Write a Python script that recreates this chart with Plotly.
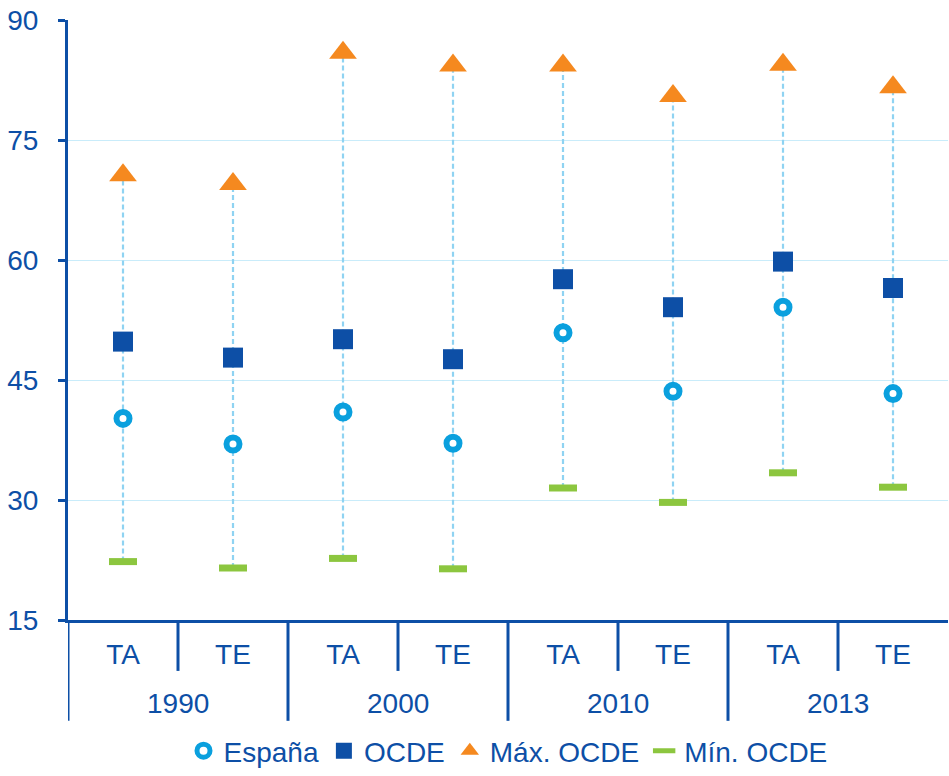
import plotly.graph_objects as go

# Data
years = ["1990", "1990", "2000", "2000", "2010", "2010", "2013", "2013"]
kinds = ["TA", "TE", "TA", "TE", "TA", "TE", "TA", "TE"]
espana = [40.2, 37.0, 41.0, 37.1, 50.9, 43.6, 54.1, 43.3]
ocde = [49.8, 47.8, 50.1, 47.6, 57.6, 54.1, 59.8, 56.5]
max_ocde = [70.6, 69.5, 85.9, 84.3, 84.3, 80.5, 84.4, 81.6]
min_ocde = [22.3, 21.5, 22.7, 21.4, 31.5, 29.7, 33.4, 31.6]

blue = "#0d4fa6"
font = dict(family="Liberation Sans, Arial", size=28, color=blue)

cats = [f"{y} {k}" for y, k in zip(years, kinds)]

fig = go.Figure()

# dashed range lines from min to max
for c, lo, hi in zip(cats, min_ocde, max_ocde):
    fig.add_trace(go.Scatter(
        x=[c, c], y=[lo, hi], mode="lines",
        line=dict(color="#8fd3f2", width=2.2, dash="5px,3px"),
        showlegend=False, hoverinfo="skip"))

fig.add_trace(go.Scatter(
    x=cats, y=espana, mode="markers", name="España",
    marker=dict(symbol="circle", size=13, color="white",
                line=dict(color="#0aa0de", width=6))))
fig.add_trace(go.Scatter(
    x=cats, y=ocde, mode="markers", name="OCDE",
    marker=dict(symbol="square", size=20, color=blue)))
fig.add_trace(go.Scatter(
    x=cats, y=max_ocde, mode="markers", name="Máx. OCDE",
    marker=dict(symbol="triangle-up", size=24, color="#f5891f")))
fig.add_trace(go.Scatter(
    x=cats, y=min_ocde, mode="markers", name="Mín. OCDE",
    marker=dict(symbol="line-ew", size=20,
                line=dict(color="#8cc63f", width=7))))

# separators under the axis: short between TA/TE, long between years
n = len(cats)
for i in range(n):
    long = i % 2 == 0
    fig.add_shape(type="line", xref="x", yref="paper",
                  x0=i - 0.5, x1=i - 0.5, y0=0, y1=-(101 if long else 51) / 601,
                  line=dict(color=blue, width=3))

# year labels centred under each pair
for i in range(0, n, 2):
    fig.add_annotation(x=i + 0.5, y=-84 / 601, xref="x", yref="paper",
                       text=years[i], showarrow=False, font=font,
                       yanchor="middle")

fig.update_xaxes(
    type="category", range=[-0.5, n - 0.5], tickvals=cats, ticktext=kinds,
    showline=True, linecolor=blue, linewidth=3, ticks="",
    ticklabelstandoff=7,
    tickfont=font, showgrid=False, automargin=False)
fig.update_yaxes(
    range=[15, 90], tickvals=[15, 30, 45, 60, 75, 90],
    showline=True, linecolor=blue, linewidth=3,
    ticks="outside", ticklen=7, tickwidth=3, tickcolor=blue,
    ticklabelstandoff=14,
    gridcolor="#c9ecfa", gridwidth=1, tickfont=font, zeroline=False,
    automargin=False)

fig.update_layout(
    width=949, height=776, plot_bgcolor="white", paper_bgcolor="white",
    margin=dict(l=68, r=1, t=20, b=155),
    font=font,
    legend=dict(orientation="h", x=0.5, xanchor="center", y=-155 / 601,
                yanchor="bottom", font=font, itemwidth=30,
                tracegroupgap=0),
)

fig.write_html("out.html", config={"displayModeBar": False},
               post_script="document.body.style.margin='0';")
